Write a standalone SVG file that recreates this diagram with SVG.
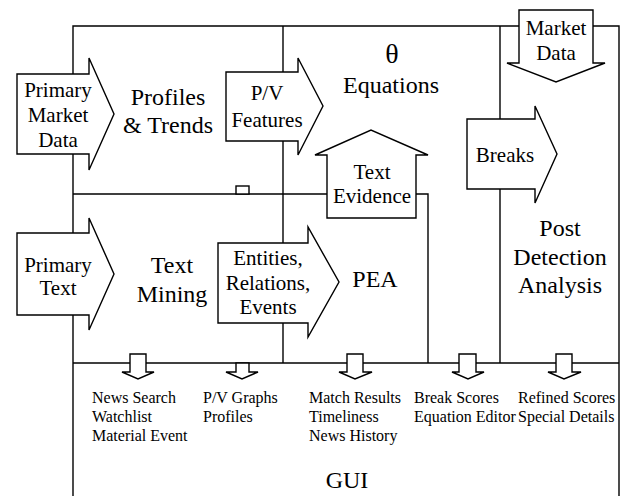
<svg xmlns="http://www.w3.org/2000/svg" width="621" height="496" viewBox="0 0 621 496">
<style>
.ln{fill:none;stroke:#000;stroke-width:1.4}
.ar{fill:#fff;stroke:#000;stroke-width:1.4;stroke-linejoin:miter}
text{font-family:"Liberation Serif","Times New Roman",serif;fill:#000}
.m{font-size:24px;text-anchor:middle}
.s{font-size:21px;text-anchor:middle}
.t{font-size:16px;text-anchor:start}
.th{font-size:28px;text-anchor:middle}
</style>
<rect width="621" height="496" fill="#fff"/>
<g id="connectors">
<polyline class="ln" points="73,496 73,26 619,26 619,496"/>
<line class="ln" x1="283" y1="26" x2="283" y2="363"/>
<line class="ln" x1="500" y1="26" x2="500" y2="363"/>
<line class="ln" x1="73" y1="363" x2="619" y2="363"/>
<polyline class="ln" points="73,194 428,194 428,363"/>
<rect class="ar" x="236" y="186" width="13" height="8"/>
</g>
<g id="profiles">
<text class="m" x="168" y="105">Profiles</text>
<text class="m" x="168" y="133">&amp; Trends</text>
</g>
<g id="equations">
<text class="th" x="392" y="63">θ</text>
<text class="m" x="391" y="93">Equations</text>
</g>
<g id="textmining">
<text class="m" x="172" y="273">Text</text>
<text class="m" x="172" y="302">Mining</text>
</g>
<g id="pea">
<text class="m" x="375" y="287">PEA</text>
</g>
<g id="postdetection">
<text class="m" x="560" y="236">Post</text>
<text class="m" x="560" y="265">Detection</text>
<text class="m" x="560" y="293">Analysis</text>
</g>
<g id="gui">
<text class="m" x="347" y="488">GUI</text>
<text class="t" x="92" y="403">News Search</text>
<text class="t" x="92" y="422">Watchlist</text>
<text class="t" x="92" y="441">Material Event</text>
<text class="t" x="203" y="403">P/V Graphs</text>
<text class="t" x="203" y="422">Profiles</text>
<text class="t" x="309" y="403">Match Results</text>
<text class="t" x="309" y="422">Timeliness</text>
<text class="t" x="309" y="441">News History</text>
<text class="t" x="414" y="403">Break Scores</text>
<text class="t" x="414" y="422">Equation Editor</text>
<text class="t" x="518" y="403">Refined Scores</text>
<text class="t" x="518" y="422">Special Details</text>
</g>
<g id="primary-market-data">
<polygon class="ar" points="17,74 89,74 89,58 114,114 89,170 89,154 17,154"/>
<text class="s" x="58" y="97">Primary</text>
<text class="s" x="58" y="122">Market</text>
<text class="s" x="58" y="147">Data</text>
</g>
<g id="pv-features">
<polygon class="ar" points="226,72 298,72 298,58 323,106 298,155 298,141 226,141"/>
<text class="s" x="267" y="100">P/V</text>
<text class="s" x="267" y="127">Features</text>
</g>
<g id="market-data">
<polygon class="ar" points="519,10 593,10 593,63 605,63 556,82 507,63 519,63"/>
<text class="s" x="556" y="35">Market</text>
<text class="s" x="556" y="60">Data</text>
</g>
<g id="breaks">
<polygon class="ar" points="467,119 535,119 535,106 557,154 535,203 535,189 467,189"/>
<text class="s" x="505" y="162">Breaks</text>
</g>
<g id="text-evidence">
<polygon class="ar" points="327,218 327,155 315,155 371,130 428,155 416,155 416,218"/>
<text class="s" x="372" y="179">Text</text>
<text class="s" x="372" y="203">Evidence</text>
</g>
<g id="primary-text">
<polygon class="ar" points="17,233 89,233 89,218 114,274 89,330 89,315 17,315"/>
<text class="s" x="58" y="272">Primary</text>
<text class="s" x="58" y="295">Text</text>
</g>
<g id="entities">
<polygon class="ar" points="218,243 308,243 308,227 339,282 308,337 308,323 218,323"/>
<text class="s" x="268" y="265">Entities,</text>
<text class="s" x="268" y="290">Relations,</text>
<text class="s" x="268" y="314">Events</text>
</g>
<g id="gui-arrows">
<polygon class="ar" points="130,354 146,354 146,372 154,372 138,379 122,372 130,372"/>
<polygon class="ar" points="236,363 249,363 249,372 258,372 242,379 226,372 236,372"/>
<polygon class="ar" points="347,354 363,354 363,372 372,372 355,379 339,372 347,372"/>
<polygon class="ar" points="459,354 476,354 476,372 484,372 468,379 452,372 459,372"/>
<polygon class="ar" points="556,354 572,354 572,372 581,372 564,379 548,372 556,372"/>
</g>
</svg>
